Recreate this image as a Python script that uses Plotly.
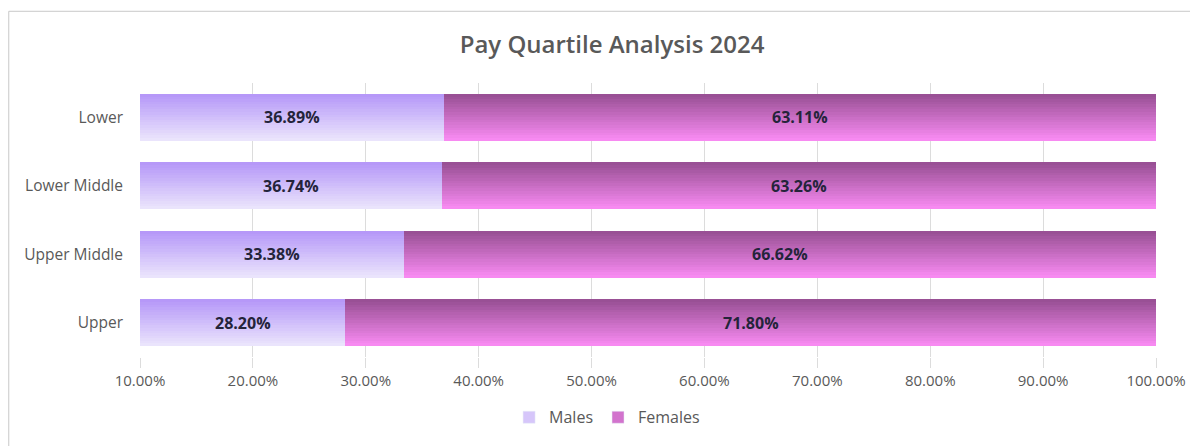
import plotly.graph_objects as go

categories = ["Lower", "Lower Middle", "Upper Middle", "Upper"]
males = [36.89, 36.74, 33.38, 28.20]
females = [63.11, 63.26, 66.62, 71.80]
tick_vals = [10, 20, 30, 40, 50, 60, 70, 80, 90, 100]
tick_text = ["10.00%", "20.00%", "30.00%", "40.00%", "50.00%", "60.00%",
             "70.00%", "80.00%", "90.00%", "100.00%"]

AX_MIN, AX_MAX = 10, 100
BAR_W = 0.68
N_BANDS = 18

male_bottom = (236, 230, 252)
male_top = (180, 150, 248)
fem_bottom = (250, 140, 244)
fem_top = (150, 78, 146)


def mix(c1, c2, t):
    return "rgb(%d,%d,%d)" % tuple(round(a + (b - a) * t) for a, b in zip(c1, c2))


fig = go.Figure()
h = BAR_W / N_BANDS
for name, vals, bases, cb, ct in [
    ("Males", males, [0] * len(males), male_bottom, male_top),
    ("Females", females, males, fem_bottom, fem_top),
]:
    for i in range(N_BANDS):
        # y axis is reversed: band 0 sits at the top of the bar
        t = (i + 0.5) / N_BANDS
        fig.add_trace(go.Bar(
            y=categories, x=vals, base=bases, orientation="h",
            width=h * 1.08, offset=-BAR_W / 2 + i * h,
            marker=dict(color=mix(ct, cb, t), line=dict(width=0)),
            name=name, legendgroup=name, showlegend=False,
            hoverinfo="skip",
        ))
    fig.add_trace(go.Bar(
        y=[None], x=[None], orientation="h", name=name, legendgroup=name,
        marker=dict(color=mix(cb, ct, 0.4)), showlegend=True,
    ))

# data labels centred on the visible bar segments
for c, m, f in zip(categories, males, females):
    fig.add_annotation(x=(max(0, AX_MIN) + m) / 2, y=c, text="<b>%.2f%%</b>" % m,
                       showarrow=False, font=dict(size=16, color="#24243a",
                                                  family="Open Sans"))
    fig.add_annotation(x=(max(m, AX_MIN) + m + f) / 2, y=c, text="<b>%.2f%%</b>" % f,
                       showarrow=False, font=dict(size=16, color="#24243a",
                                                  family="Open Sans"))

# page body has an 8px margin, so figure coords = screen coords - 8
OFF = 8
W, H = 1190, 438
L, R, T, B = 140 - OFF, W - (1158 - OFF), 83 - OFF, H - (360 - OFF)
pw, ph = W - L - R, H - T - B


def px_x(px):
    return (px - OFF - L) / pw


def px_y(py):
    return (H - B - (py - OFF)) / ph


fig.add_shape(type="rect", xref="paper", yref="paper",
              x0=px_x(8.5), x1=px_x(1260), y0=px_y(500), y1=px_y(10.5),
              line=dict(color="#c8c8c8", width=1), fillcolor="rgba(0,0,0,0)",
              layer="below")

fig.update_layout(
    width=W, height=H,
    margin=dict(l=L, r=R, t=T, b=B),
    barmode="overlay", bargap=0,
    paper_bgcolor="white", plot_bgcolor="white",
    font=dict(family="Open Sans", color="#595959", size=15),
    title=dict(text="Pay Quartile Analysis 2024", x=px_x(613), xref="paper",
               xanchor="center", y=1 - (45 - OFF) / H, yanchor="middle",
               font=dict(size=24, color="#595959", family="Open Sans", weight=600)),
    legend=dict(orientation="h", x=px_x(608), xanchor="center",
                y=px_y(421), yanchor="middle", font=dict(size=16, color="#595959"),
                traceorder="normal"),
    xaxis=dict(range=[AX_MIN, AX_MAX], tickvals=tick_vals, ticktext=tick_text,
               showgrid=True, gridcolor="#dcdcdc", gridwidth=1, zeroline=False,
               showline=False, ticks="outside", ticklen=10, tickcolor="#dcdcdc",
               tickfont=dict(size=15, color="#595959")),
    yaxis=dict(categoryorder="array", categoryarray=categories, autorange="reversed",
               showgrid=False, zeroline=False, showline=False,
               ticklabelstandoff=16, tickfont=dict(size=15.5, color="#595959")),
)

fig.write_html("out.html")
